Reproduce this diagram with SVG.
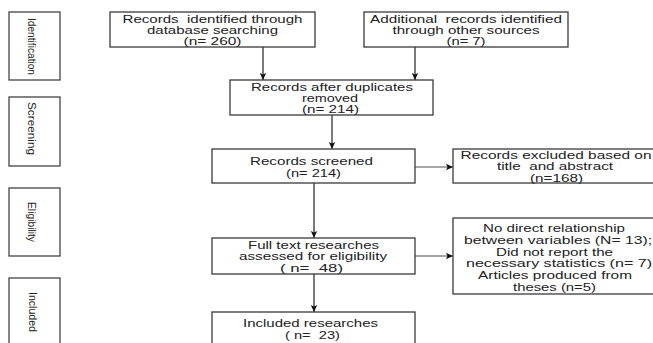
<svg xmlns="http://www.w3.org/2000/svg" width="653" height="343" viewBox="0 0 653 343">
<style>
.box{fill:#fff;stroke:#3a3a3a;stroke-width:1.3}
.side{fill:#fff;stroke:#444;stroke-width:1.3}
text{font-family:"Liberation Sans",Arial,sans-serif;font-size:11px;fill:#222;white-space:pre}
.c{text-anchor:middle}
.s{font-size:11.5px}
.v{stroke:#333;stroke-width:1.3;fill:none}
.h{stroke:#888;stroke-width:1.3;fill:none}
</style>
<defs>
<marker id="ah" markerWidth="8" markerHeight="8" refX="7" refY="4" orient="auto" markerUnits="userSpaceOnUse">
<path d="M0,0.8 L7,4 L0,7.2 L1.5,4 Z" fill="#111"/>
</marker>
</defs>
<rect width="653" height="343" fill="#fff"/>

<g id="stage-identification">
<rect class="side" x="9" y="12" width="51" height="68"/>
<text class="c s" transform="translate(27.5,46.5) rotate(90)" textLength="57" lengthAdjust="spacingAndGlyphs">Identification</text>
</g>
<g id="stage-screening">
<rect class="side" x="9" y="97" width="51" height="69"/>
<text class="c s" transform="translate(27.5,128.5) rotate(90)" textLength="53" lengthAdjust="spacingAndGlyphs">Screening</text>
</g>
<g id="stage-eligibility">
<rect class="side" x="9" y="188" width="51" height="68"/>
<text class="c s" transform="translate(27.5,222) rotate(90)" textLength="40" lengthAdjust="spacingAndGlyphs">Eligibility</text>
</g>
<g id="stage-included">
<rect class="side" x="9" y="278" width="51" height="80"/>
<text class="c s" transform="translate(28.5,312) rotate(90)" textLength="40" lengthAdjust="spacingAndGlyphs">Included</text>
</g>

<g id="connectors">
<line class="v" x1="263" y1="47" x2="263" y2="80" marker-end="url(#ah)"/>
<line class="v" x1="415" y1="47" x2="415" y2="80" marker-end="url(#ah)"/>
<line class="v" x1="332" y1="115" x2="332" y2="149" marker-end="url(#ah)"/>
<line class="v" x1="314" y1="183" x2="314" y2="238" marker-end="url(#ah)"/>
<line class="v" x1="314" y1="274" x2="314" y2="312" marker-end="url(#ah)"/>
<line class="h" x1="415" y1="167" x2="453" y2="167" marker-end="url(#ah)"/>
<line class="h" x1="415" y1="256" x2="453" y2="256" marker-end="url(#ah)"/>
</g>

<g id="records-database">
<rect class="box" x="110" y="12" width="205" height="35"/>
<text class="c" x="212.5" y="22.5" textLength="180" lengthAdjust="spacingAndGlyphs">Records  identified through</text>
<text class="c" x="212.5" y="33.5" textLength="131" lengthAdjust="spacingAndGlyphs">database searching</text>
<text class="c" x="212.5" y="44.5" textLength="58" lengthAdjust="spacingAndGlyphs">(n= 260)</text>
</g>
<g id="records-other">
<rect class="box" x="364" y="12" width="204" height="35"/>
<text class="c" x="466" y="22.5" textLength="192" lengthAdjust="spacingAndGlyphs">Additional  records identified</text>
<text class="c" x="466" y="33.5" textLength="147" lengthAdjust="spacingAndGlyphs">through other sources</text>
<text class="c" x="466" y="44.5" textLength="39" lengthAdjust="spacingAndGlyphs">(n= 7)</text>
</g>
<g id="records-dedup">
<rect class="box" x="230" y="80" width="203" height="35"/>
<text class="c" x="332" y="90.5" textLength="162" lengthAdjust="spacingAndGlyphs">Records after duplicates</text>
<text class="c" x="330" y="101.5" textLength="56" lengthAdjust="spacingAndGlyphs">removed</text>
<text class="c" x="330.5" y="113" textLength="57" lengthAdjust="spacingAndGlyphs">(n= 214)</text>
</g>
<g id="records-screened">
<rect class="box" x="212" y="149" width="203" height="34"/>
<text class="c" x="311.5" y="165" textLength="123" lengthAdjust="spacingAndGlyphs">Records screened</text>
<text class="c" x="313.5" y="176.5" textLength="55" lengthAdjust="spacingAndGlyphs">(n= 214)</text>
</g>
<g id="records-excluded">
<rect class="box" x="453" y="149" width="202" height="34"/>
<text class="c" x="556" y="158.5" textLength="191" lengthAdjust="spacingAndGlyphs">Records excluded based on</text>
<text class="c" x="555" y="170" textLength="116" lengthAdjust="spacingAndGlyphs">title  and abstract</text>
<text class="c" x="556.5" y="182" textLength="53" lengthAdjust="spacingAndGlyphs">(n=168)</text>
</g>
<g id="full-text">
<rect class="box" x="212" y="238" width="203" height="36"/>
<text class="c" x="313.5" y="248.5" textLength="131" lengthAdjust="spacingAndGlyphs">Full text researches</text>
<text class="c" x="313" y="260" textLength="148" lengthAdjust="spacingAndGlyphs">assessed for eligibility</text>
<text class="c" x="311.5" y="272" textLength="63" lengthAdjust="spacingAndGlyphs">( n=  48)</text>
</g>
<g id="full-text-excluded">
<rect class="box" x="453" y="218" width="202" height="76"/>
<text class="c" x="554" y="231.5" textLength="142" lengthAdjust="spacingAndGlyphs">No direct relationship</text>
<text class="c" x="558" y="243.5" textLength="188" lengthAdjust="spacingAndGlyphs">between variables (N= 13);</text>
<text class="c" x="554.5" y="255.5" textLength="117" lengthAdjust="spacingAndGlyphs">Did not report the</text>
<text class="c" x="559" y="267" textLength="186" lengthAdjust="spacingAndGlyphs">necessary statistics (n= 7)</text>
<text class="c" x="555" y="279" textLength="154" lengthAdjust="spacingAndGlyphs">Articles produced from</text>
<text class="c" x="554.5" y="291" textLength="83" lengthAdjust="spacingAndGlyphs">theses (n=5)</text>
</g>
<g id="included">
<rect class="box" x="212" y="312" width="203" height="45"/>
<text class="c" x="310.5" y="326.5" textLength="135" lengthAdjust="spacingAndGlyphs">Included researches</text>
<text class="c" x="312.5" y="338.5" textLength="55" lengthAdjust="spacingAndGlyphs">( n=  23)</text>
</g>
</svg>
